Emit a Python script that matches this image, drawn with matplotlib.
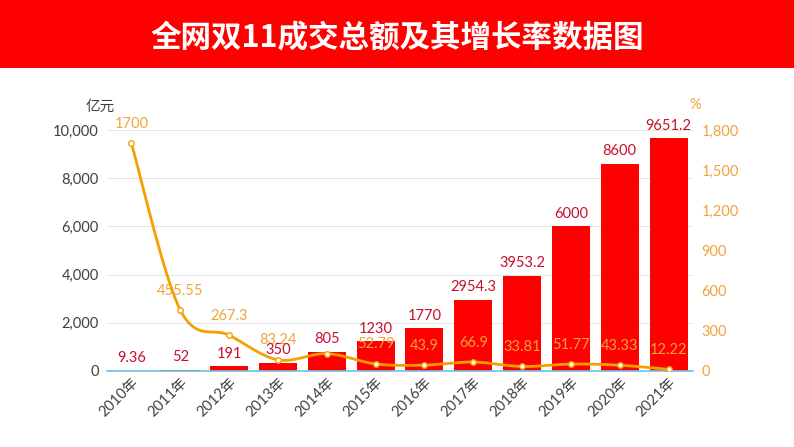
import numpy as np
import matplotlib
matplotlib.use("Agg")
import matplotlib.pyplot as plt
from matplotlib.patches import Rectangle

plt.rcParams['font.family'] = ['Lato', 'Noto Sans CJK SC', 'DejaVu Sans']

# data
years = ["2010年", "2011年", "2012年", "2013年", "2014年", "2015年",
         "2016年", "2017年", "2018年", "2019年", "2020年", "2021年"]
sales = [9.36, 52, 191, 350, 805, 1230, 1770, 2954.3, 3953.2, 6000, 8600, 9651.2]
growth = [1700, 455.55, 267.3, 83.24, 130, 52.79, 43.9, 66.9, 33.81, 51.77, 43.33, 12.22]
sales_labels = ["9.36", "52", "191", "350", "805", "1230", "1770", "2954.3",
                "3953.2", "6000", "8600", "9651.2"]
# the 2014 growth label sits hidden behind the "805" bar label in the original
growth_labels = ["1700", "455.55", "267.3", "83.24", "", "52.79", "43.9",
                 "66.9", "33.81", "51.77", "43.33", "12.22"]

RED = "#FF0000"
DARKRED = "#C8102E"
ORANGE = "#F5A000"
ORANGE_TXT = "#F0A43C"
GRAY = "#404040"

fig = plt.figure(figsize=(7.94, 4.47), dpi=100)

# title band
fig.patches.append(Rectangle((0, 1 - 68 / 447), 1, 68 / 447, transform=fig.transFigure,
                             facecolor=RED, edgecolor="none", zorder=0))
fig.text(0.5, 1 - 38 / 447, "全网双11成交总额及其增长率数据图", color="white",
         fontsize=22, fontweight="bold", ha="center", va="center",
         family=["Noto Sans CJK SC", "DejaVu Sans"])

ax = fig.add_axes([107 / 794, 1 - 371 / 447, 586 / 794, 241 / 447])
x = np.arange(len(years))

ax.bar(x, sales, width=0.78, color=RED, zorder=2)
ax.set_xlim(-0.5, len(years) - 0.5)
ax.set_ylim(0, 10000)
ax.set_yticks(range(0, 10001, 2000))
ax.set_yticklabels([f"{v:,}" for v in range(0, 10001, 2000)])
ax.grid(axis="y", color="#E6E6E6", linewidth=0.8, zorder=0)
ax.set_axisbelow(True)
for s in ["top", "right", "left"]:
    ax.spines[s].set_visible(False)
ax.spines["bottom"].set_color("#6EC3E8")
ax.spines["bottom"].set_linewidth(1.2)
ax.tick_params(axis="y", length=0, labelsize=10.5, colors=GRAY, pad=6)
ax.tick_params(axis="x", length=0, labelsize=10.5, colors=GRAY, pad=3)
ax.set_xticks(x)
ax.set_xticklabels(years, rotation=45, ha="right", rotation_mode="anchor")

ax2 = ax.twinx()
ax2.set_ylim(0, 1800)
ax2.set_yticks(range(0, 1801, 300))
ax2.set_yticklabels([f"{v:,}" for v in range(0, 1801, 300)])
for s in ["top", "right", "left", "bottom"]:
    ax2.spines[s].set_visible(False)
ax2.tick_params(axis="y", length=0, labelsize=10.5, colors=ORANGE_TXT, pad=6)


# smooth curve through the points (Excel-style smoothed line), computed in pixel space
def smooth(xs, ys, trans, n=20):
    pts = trans.transform(np.column_stack([xs, ys]))
    out = [pts[0]]
    for i in range(len(pts) - 1):
        p0 = pts[max(i - 1, 0)]
        p1 = pts[i]
        p2 = pts[i + 1]
        p3 = pts[min(i + 2, len(pts) - 1)]
        c1 = p1 + (p2 - p0) / 6
        c2 = p2 - (p3 - p1) / 6
        t = np.linspace(0, 1, n)[1:, None]
        seg = ((1 - t) ** 3) * p1 + 3 * ((1 - t) ** 2) * t * c1 + 3 * (1 - t) * t ** 2 * c2 + t ** 3 * p2
        out.extend(seg)
    out = trans.inverted().transform(np.array(out))
    return out[:, 0], out[:, 1]


sx, sy = smooth(x, growth, ax2.transData)
ax2.plot(sx, sy, color=ORANGE, linewidth=2, zorder=3)
ax2.plot(x, growth, linestyle="none", marker="o", markersize=4,
         markerfacecolor="white", markeredgecolor=ORANGE, markeredgewidth=1, zorder=4)

for xi, g, lab in zip(x, growth, growth_labels):
    if lab:
        ax2.annotate(lab, (xi, g), xytext=(0, 9), textcoords="offset points",
                     ha="center", va="bottom", color=ORANGE_TXT, fontsize=10.5, zorder=5)

for xi, v, lab in zip(x, sales, sales_labels):
    ax2.annotate(lab, (xi, v * 1800 / 10000), xytext=(0, 4), textcoords="offset points",
                 ha="center", va="bottom", color=DARKRED, fontsize=10.5, zorder=6)

fig.text(100 / 794, 1 - 107 / 447, "亿元", color=GRAY, fontsize=10.5,
         ha="center", va="center", family=["Noto Sans CJK SC", "DejaVu Sans"])
fig.text(695 / 794, 1 - 105 / 447, "%", color=ORANGE_TXT, fontsize=10.5,
         ha="center", va="center")

fig.savefig("out.png", dpi=100)
